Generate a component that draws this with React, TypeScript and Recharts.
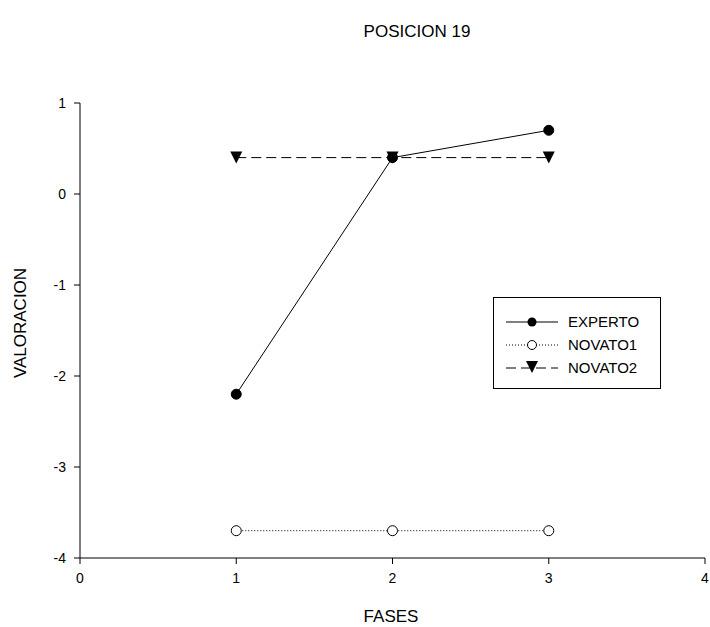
import React from "react";
import { LineChart, Line, XAxis, YAxis } from "recharts";

const fases = [1, 2, 3];
const experto = [-2.2, 0.4, 0.7];
const novato1 = [-3.7, -3.7, -3.7];
const novato2 = [0.4, 0.4, 0.4];
const xTicks = [0, 1, 2, 3, 4];
const yTicks = [-4, -3, -2, -1, 0, 1];

const data = fases.map((f, i) => ({
  fase: f,
  experto: experto[i],
  novato1: novato1[i],
  novato2: novato2[i],
}));

const FONT = '"Liberation Sans", Arial, sans-serif';

// marcador triangular invertido para NOVATO2
function Triangle(props: any) {
  const { cx, cy } = props;
  if (cx == null || cy == null) return null;
  const s = 6;
  return (
    <path
      d={`M${cx - s},${cy - s} L${cx + s},${cy - s} L${cx},${cy + s} Z`}
      fill="#000"
      stroke="none"
    />
  );
}

const series = [
  { key: "experto", name: "EXPERTO", dash: undefined, marker: "filled" },
  { key: "novato1", name: "NOVATO1", dash: "1 2", marker: "open" },
  { key: "novato2", name: "NOVATO2", dash: "10 5", marker: "tri" },
];

function LegendBox() {
  return (
    <svg width={166} height={90} style={{ display: "block" }}>
      {series.map((s, i) => {
        const y = 24 + i * 23;
        return (
          <g key={s.key}>
            <line x1={12} x2={64} y1={y} y2={y} stroke="#000" strokeDasharray={s.dash} />
            {s.marker === "filled" && <circle cx={38} cy={y} r={4.5} fill="#000" />}
            {s.marker === "open" && <circle cx={38} cy={y} r={4.5} fill="#fff" stroke="#000" />}
            {s.marker === "tri" && <Triangle cx={38} cy={y - 1} />}
            <text x={74} y={y + 5} fontSize={15} fontFamily={FONT} fill="#000">
              {s.name}
            </text>
          </g>
        );
      })}
    </svg>
  );
}

export default function App() {
  const tickStyle = { fontSize: 14, fontFamily: FONT, fill: "#000" };
  return (
    <div style={{ position: "absolute", left: 0, top: 0, width: 710, height: 627, background: "#fff" }}>
      <div
        style={{
          position: "absolute",
          left: 417,
          top: 22,
          transform: "translateX(-50%)",
          fontFamily: FONT,
          fontSize: 17,
          whiteSpace: "nowrap",
        }}
      >
        POSICION 19
      </div>
      <div
        style={{
          position: "absolute",
          left: 391,
          top: 607,
          transform: "translateX(-50%)",
          fontFamily: FONT,
          fontSize: 17,
          whiteSpace: "nowrap",
        }}
      >
        FASES
      </div>
      <div
        style={{
          position: "absolute",
          left: 21,
          top: 323,
          transform: "translate(-50%, -50%) rotate(-90deg)",
          fontFamily: FONT,
          fontSize: 17,
          whiteSpace: "nowrap",
        }}
      >
        VALORACION
      </div>
      <LineChart
        width={710}
        height={627}
        data={data}
        margin={{ top: 103, right: 5, bottom: 39, left: 20 }}
      >
        <XAxis
          type="number"
          dataKey="fase"
          domain={[0, 4]}
          ticks={xTicks}
          allowDataOverflow
          height={30}
          stroke="#000"
          tickSize={6}
          tickMargin={9}
          tick={tickStyle}
        />
        <YAxis
          type="number"
          domain={[-4, 1]}
          ticks={yTicks}
          allowDataOverflow
          width={60}
          stroke="#000"
          tickSize={6}
          tickMargin={8}
          tick={tickStyle}
        />
        <Line
          dataKey="experto"
          name="EXPERTO"
          stroke="#000"
          strokeWidth={1}
          dot={{ r: 5, fill: "#000", stroke: "#000", strokeWidth: 1 }}
          isAnimationActive={false}
        />
        <Line
          dataKey="novato1"
          name="NOVATO1"
          stroke="#000"
          strokeWidth={1}
          strokeDasharray="1 2"
          dot={{ r: 5, fill: "#fff", stroke: "#000", strokeWidth: 1, strokeDasharray: "" }}
          isAnimationActive={false}
        />
        <Line
          dataKey="novato2"
          name="NOVATO2"
          stroke="#000"
          strokeWidth={1}
          strokeDasharray="10 5"
          dot={<Triangle />}
          isAnimationActive={false}
        />
      </LineChart>
      <div
        style={{
          position: "absolute",
          left: 493,
          top: 297,
          width: 168,
          height: 92,
          border: "1px solid #000",
          boxSizing: "border-box",
          background: "#fff",
        }}
      >
        <LegendBox />
      </div>
    </div>
  );
}
